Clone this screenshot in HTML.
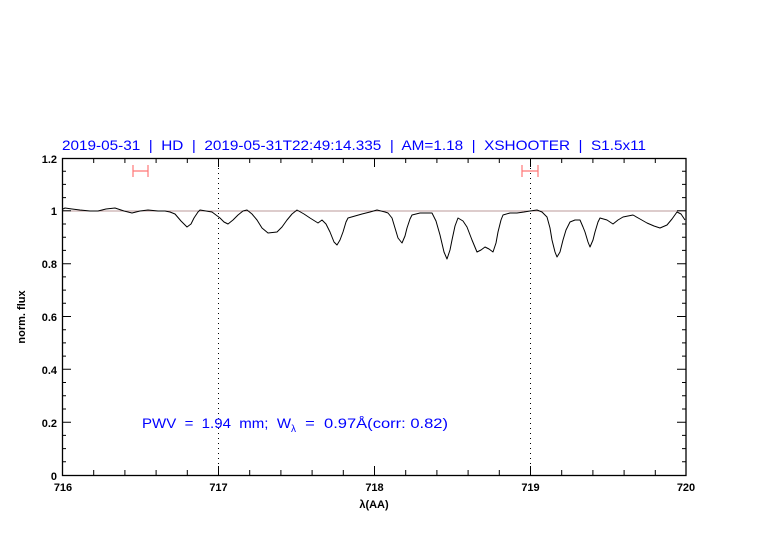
<!DOCTYPE html>
<html><head><style>body{margin:0;background:#fff}svg{display:block}</style></head><body>
<svg width="782" height="542" xmlns="http://www.w3.org/2000/svg" font-family="Liberation Sans, sans-serif">
<rect width="782" height="542" fill="#fff"/>
<text x="62" y="150" fill="#0000ff" font-size="14" textLength="584" lengthAdjust="spacingAndGlyphs" xml:space="preserve">2019-05-31  |  HD  |  2019-05-31T22:49:14.335  |  AM=1.18  |  XSHOOTER  |  S1.5x11</text>
<line x1="62.5" y1="211" x2="686" y2="211" stroke="#b99" stroke-width="1"/>
<g stroke="#000" stroke-dasharray="1,4" stroke-width="1"><line x1="218.5" y1="158" x2="218.5" y2="475"/><line x1="530.5" y1="158" x2="530.5" y2="475"/></g>
<g stroke="#f77" stroke-width="1.2" fill="none"><path d="M133 171H148M133 165V177M148 165V177"/><path d="M522 171H538M522 165V177M538 165V177"/></g>
<path fill="none" stroke="#000" stroke-width="1" stroke-linejoin="round" d="M63 209 L65 208 L72 209 L80 210 L90 211 L98 211 L106 209 L115 208 L124 211 L132 213 L140 211 L148 210 L158 211 L165 211 L170 212 L175 214 L181 221 L187 227 L191 224 L194 218 L198 212 L200 210 L206 211 L212 212 L216 215 L220 218 L224 222 L228 224 L233 220 L238 215 L243 211 L247 210 L252 214 L257 220 L262 228 L268 233 L277 232 L282 227 L287 220 L292 214 L297 210 L304 214 L310 218 L318 223 L322 220 L326 224 L330 232 L334 242 L337 245 L340 240 L343 232 L346 222 L348 218 L355 216 L362 214 L370 212 L377 210 L385 212 L388 213 L392 218 L395 228 L398 238 L402 243 L405 236 L407 228 L410 219 L412 215 L420 213 L432 213 L436 221 L440 235 L444 252 L447 259 L450 250 L452 240 L455 226 L458 218 L463 221 L467 227 L472 240 L477 252 L481 250 L485 247 L489 249 L493 252 L496 243 L498 232 L501 220 L503 215 L510 213 L517 213 L524 212 L530 211 L537 210 L542 212 L547 217 L550 228 L552 240 L555 252 L557 257 L560 252 L563 240 L566 230 L570 222 L575 220 L580 220 L583 227 L585 232 L588 242 L590 247 L593 240 L595 232 L598 222 L600 218 L607 220 L613 224 L618 220 L623 217 L633 215 L640 219 L647 223 L654 226 L660 228 L667 225 L672 219 L677 212 L681 214 L685 220"/>
<rect x="62.5" y="158.5" width="623.5" height="317" fill="none" stroke="#000" stroke-width="1.3"/>
<g stroke="#000" stroke-width="1">
<path d="M218.5 475V466M374.5 475V466M530.5 475V466M218.5 158V167M374.5 158V167M530.5 158V167
M93.7 475V470M124.9 475V470M156.1 475V470M187.3 475V470M249.7 475V470M280.9 475V470M312.1 475V470M343.3 475V470M405.7 475V470M436.9 475V470M468.1 475V470M499.3 475V470M561.7 475V470M592.9 475V470M624.1 475V470M655.3 475V470
M93.7 158V163M124.9 158V163M156.1 158V163M187.3 158V163M249.7 158V163M280.9 158V163M312.1 158V163M343.3 158V163M405.7 158V163M436.9 158V163M468.1 158V163M499.3 158V163M561.7 158V163M592.9 158V163M624.1 158V163M655.3 158V163"/>
<path d="M62 422.2H71M62 369.3H71M62 316.5H71M62 263.7H71M62 210.8H71M686 422.2H677M686 369.3H677M686 316.5H677M686 263.7H677M686 210.8H677
M62 461.8H66M62 448.6H66M62 435.4H66M62 409H66M62 395.8H66M62 382.5H66M62 356.1H66M62 342.9H66M62 329.7H66M62 303.3H66M62 290.1H66M62 276.9H66M62 250.4H66M62 237.2H66M62 224H66M62 197.6H66M62 184.4H66M62 171.2H66
M686 461.8H682M686 448.6H682M686 435.4H682M686 409H682M686 395.8H682M686 382.5H682M686 356.1H682M686 342.9H682M686 329.7H682M686 303.3H682M686 290.1H682M686 276.9H682M686 250.4H682M686 237.2H682M686 224H682M686 197.6H682M686 184.4H682M686 171.2H682"/>
</g>
<g font-size="11" fill="#000" text-anchor="end" font-weight="bold">
<text x="57" y="480">0</text><text x="57" y="427">0.2</text><text x="57" y="374">0.4</text><text x="57" y="321">0.6</text><text x="57" y="268">0.8</text><text x="57" y="215">1</text><text x="57" y="163">1.2</text>
</g>
<g font-size="11" fill="#000" text-anchor="middle" font-weight="bold">
<text x="63" y="491">716</text><text x="218.5" y="491">717</text><text x="374.5" y="491">718</text><text x="530.5" y="491">719</text><text x="686" y="491">720</text>
<text x="374" y="508">λ(AA)</text>
</g>
<text transform="translate(25,317) rotate(-90)" font-size="11" text-anchor="middle" fill="#000" font-weight="bold">norm. flux</text>
<text x="142" y="428" fill="#0000ff" font-size="14" xml:space="preserve"><tspan textLength="149" lengthAdjust="spacingAndGlyphs">PWV  =  1.94  mm;  W</tspan><tspan font-size="10" dy="4">λ</tspan><tspan dy="-4" textLength="152" lengthAdjust="spacingAndGlyphs">  =  0.97Å(corr: 0.82)</tspan></text>
</svg>
</body></html>
